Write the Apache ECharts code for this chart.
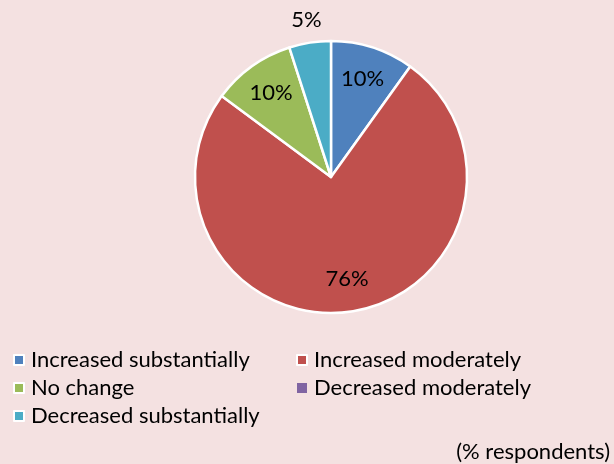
<!DOCTYPE html>
<html>
<head>
<meta charset="utf-8">
<script src="https://cdn.jsdelivr.net/npm/echarts@6/dist/echarts.min.js"></script>
<style>
  html, body { margin: 0; padding: 0; background: #F4E1E1; }
  #chart { width: 614px; height: 464px; }
</style>
</head>
<body>
<div id="chart"></div>
<script>
// Survey answers and their shares of respondents (%)
const categories = [
  'Increased substantially',
  'Increased moderately',
  'No change',
  'Decreased moderately',
  'Decreased substantially'
];
const shares = [10, 76, 10, 0, 5];
const colors = ['#4F81BD', '#C0504D', '#9BBB59', '#8064A2', '#4BACC6'];
const footnote = '(% respondents)';

const FONT = 'Lato';
const FONT_SIZE = 22;
const center = [331, 177];
const radius = 136;

const mainData = categories.map((name, i) => {
  const item = { name, value: shares[i], itemStyle: { color: colors[i] } };
  if (shares[i] === 0) item.itemStyle.borderWidth = 0;
  return item;
});

// Transparent overlay pies carry the value labels at a chosen distance from the centre:
// large slices inside the pie, small slices just beyond its rim.
function labelLayer(outerRadius, showFn) {
  return {
    type: 'pie',
    center, radius: [0, outerRadius],
    startAngle: 90, clockwise: true,
    silent: true,
    avoidLabelOverlap: false,
    data: categories.map((name, i) => ({
      name, value: shares[i], label: { show: showFn(shares[i]) }
    })),
    itemStyle: { color: 'rgba(0,0,0,0)', borderWidth: 0 },
    label: {
      position: 'inside',
      formatter: '{c}%',
      fontFamily: FONT, fontSize: FONT_SIZE, color: '#000'
    },
    labelLine: { show: false },
    emphasis: { disabled: true },
    z: 3
  };
}

const legendText = { fontFamily: FONT, fontSize: FONT_SIZE, color: '#000', lineHeight: 24, padding: [0, 0, 0, 2] };

const chart = echarts.init(document.getElementById('chart'), null, { renderer: 'canvas' });
chart.setOption({
  backgroundColor: '#F4E1E1',
  animation: false,
  color: colors,
  textStyle: { fontFamily: FONT },
  legend: [
    {
      data: [categories[0], categories[2], categories[4]],
      orient: 'vertical',
      left: 8, top: 343,
      itemGap: 4,
      icon: 'rect', itemWidth: 10, itemHeight: 10,
      selectedMode: false,
      textStyle: legendText
    },
    {
      data: [categories[1], categories[3]],
      orient: 'vertical',
      left: 291, top: 343,
      itemGap: 4,
      icon: 'rect', itemWidth: 10, itemHeight: 10,
      selectedMode: false,
      textStyle: legendText
    }
  ],
  graphic: [{
    type: 'text',
    right: 4, top: 441,
    style: { text: footnote, font: FONT_SIZE + 'px ' + FONT, fill: '#000' }
  }],
  series: [
    {
      type: 'pie',
      center, radius: [0, radius],
      startAngle: 90, clockwise: true,
      data: mainData,
      itemStyle: { borderColor: '#fff', borderWidth: 2.5 },
      label: { show: false },
      labelLine: { show: false },
      emphasis: { disabled: true }
    },
    labelLayer(200, v => v >= 10),
    labelLayer(312, v => v > 0 && v < 10)
  ]
});
</script>
</body>
</html>
